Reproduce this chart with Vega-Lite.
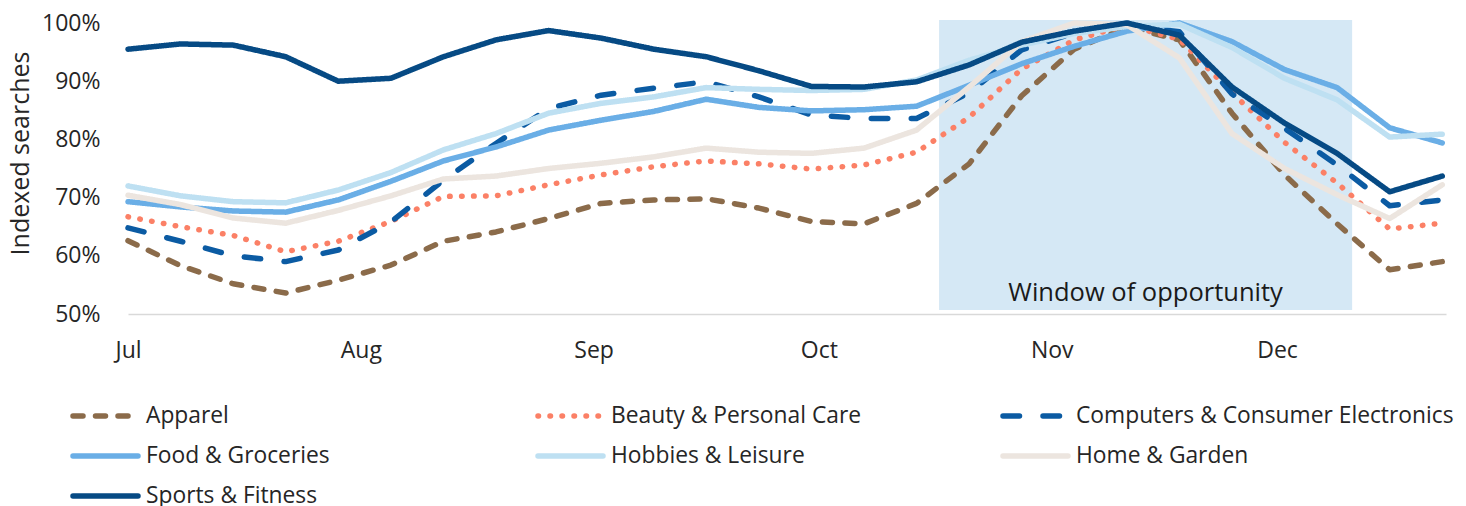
{
  "$schema": "https://vega.github.io/schema/vega-lite/v6.json",
  "width": 1318,
  "height": 291,
  "autosize": {"type": "none"},
  "padding": {"left": 128, "top": 23, "right": 20, "bottom": 192},
  "config": {"font": "Open Sans", "view": {"stroke": null}},
  "datasets": {
    "series": [
      {"date":"2023-07-01","category":"Apparel","value":62.6},{"date":"2023-07-08","category":"Apparel","value":58.3},{"date":"2023-07-15","category":"Apparel","value":55.2},{"date":"2023-07-22","category":"Apparel","value":53.6},{"date":"2023-07-29","category":"Apparel","value":55.8},{"date":"2023-08-05","category":"Apparel","value":58.4},{"date":"2023-08-12","category":"Apparel","value":62.5},{"date":"2023-08-19","category":"Apparel","value":64.1},{"date":"2023-08-26","category":"Apparel","value":66.4},{"date":"2023-09-02","category":"Apparel","value":69.0},{"date":"2023-09-09","category":"Apparel","value":69.6},{"date":"2023-09-16","category":"Apparel","value":69.8},{"date":"2023-09-23","category":"Apparel","value":68.2},{"date":"2023-09-30","category":"Apparel","value":65.9},{"date":"2023-10-07","category":"Apparel","value":65.5},{"date":"2023-10-14","category":"Apparel","value":69.0},{"date":"2023-10-21","category":"Apparel","value":75.8},{"date":"2023-10-28","category":"Apparel","value":87.5},{"date":"2023-11-04","category":"Apparel","value":95.5},{"date":"2023-11-11","category":"Apparel","value":99.3},{"date":"2023-11-18","category":"Apparel","value":97.1},{"date":"2023-11-25","category":"Apparel","value":84.5},{"date":"2023-12-02","category":"Apparel","value":73.9},{"date":"2023-12-09","category":"Apparel","value":65.5},{"date":"2023-12-16","category":"Apparel","value":57.6},{"date":"2023-12-23","category":"Apparel","value":59.0},
      {"date":"2023-07-01","category":"Beauty & Personal Care","value":66.7},{"date":"2023-07-08","category":"Beauty & Personal Care","value":65.0},{"date":"2023-07-15","category":"Beauty & Personal Care","value":63.5},{"date":"2023-07-22","category":"Beauty & Personal Care","value":60.7},{"date":"2023-07-29","category":"Beauty & Personal Care","value":62.5},{"date":"2023-08-05","category":"Beauty & Personal Care","value":65.9},{"date":"2023-08-12","category":"Beauty & Personal Care","value":70.2},{"date":"2023-08-19","category":"Beauty & Personal Care","value":70.3},{"date":"2023-08-26","category":"Beauty & Personal Care","value":72.2},{"date":"2023-09-02","category":"Beauty & Personal Care","value":73.9},{"date":"2023-09-09","category":"Beauty & Personal Care","value":75.3},{"date":"2023-09-16","category":"Beauty & Personal Care","value":76.3},{"date":"2023-09-23","category":"Beauty & Personal Care","value":75.8},{"date":"2023-09-30","category":"Beauty & Personal Care","value":74.9},{"date":"2023-10-07","category":"Beauty & Personal Care","value":75.6},{"date":"2023-10-14","category":"Beauty & Personal Care","value":77.8},{"date":"2023-10-21","category":"Beauty & Personal Care","value":83.8},{"date":"2023-10-28","category":"Beauty & Personal Care","value":92.1},{"date":"2023-11-04","category":"Beauty & Personal Care","value":97.1},{"date":"2023-11-11","category":"Beauty & Personal Care","value":99.6},{"date":"2023-11-18","category":"Beauty & Personal Care","value":97.2},{"date":"2023-11-25","category":"Beauty & Personal Care","value":88.0},{"date":"2023-12-02","category":"Beauty & Personal Care","value":79.5},{"date":"2023-12-09","category":"Beauty & Personal Care","value":72.5},{"date":"2023-12-16","category":"Beauty & Personal Care","value":64.6},{"date":"2023-12-23","category":"Beauty & Personal Care","value":65.6},
      {"date":"2023-07-01","category":"Computers & Consumer Electronics","value":64.8},{"date":"2023-07-08","category":"Computers & Consumer Electronics","value":62.5},{"date":"2023-07-15","category":"Computers & Consumer Electronics","value":60.0},{"date":"2023-07-22","category":"Computers & Consumer Electronics","value":59.0},{"date":"2023-07-29","category":"Computers & Consumer Electronics","value":61.0},{"date":"2023-08-05","category":"Computers & Consumer Electronics","value":65.8},{"date":"2023-08-12","category":"Computers & Consumer Electronics","value":73.0},{"date":"2023-08-19","category":"Computers & Consumer Electronics","value":79.3},{"date":"2023-08-26","category":"Computers & Consumer Electronics","value":85.3},{"date":"2023-09-02","category":"Computers & Consumer Electronics","value":87.6},{"date":"2023-09-09","category":"Computers & Consumer Electronics","value":88.8},{"date":"2023-09-16","category":"Computers & Consumer Electronics","value":89.9},{"date":"2023-09-23","category":"Computers & Consumer Electronics","value":87.3},{"date":"2023-09-30","category":"Computers & Consumer Electronics","value":84.2},{"date":"2023-10-07","category":"Computers & Consumer Electronics","value":83.6},{"date":"2023-10-14","category":"Computers & Consumer Electronics","value":83.6},{"date":"2023-10-21","category":"Computers & Consumer Electronics","value":88.0},{"date":"2023-10-28","category":"Computers & Consumer Electronics","value":95.4},{"date":"2023-11-04","category":"Computers & Consumer Electronics","value":98.3},{"date":"2023-11-11","category":"Computers & Consumer Electronics","value":99.6},{"date":"2023-11-18","category":"Computers & Consumer Electronics","value":98.5},{"date":"2023-11-25","category":"Computers & Consumer Electronics","value":87.8},{"date":"2023-12-02","category":"Computers & Consumer Electronics","value":81.9},{"date":"2023-12-09","category":"Computers & Consumer Electronics","value":75.6},{"date":"2023-12-16","category":"Computers & Consumer Electronics","value":68.6},{"date":"2023-12-23","category":"Computers & Consumer Electronics","value":69.6},
      {"date":"2023-07-01","category":"Food & Groceries","value":69.3},{"date":"2023-07-08","category":"Food & Groceries","value":68.4},{"date":"2023-07-15","category":"Food & Groceries","value":67.7},{"date":"2023-07-22","category":"Food & Groceries","value":67.5},{"date":"2023-07-29","category":"Food & Groceries","value":69.6},{"date":"2023-08-05","category":"Food & Groceries","value":72.8},{"date":"2023-08-12","category":"Food & Groceries","value":76.3},{"date":"2023-08-19","category":"Food & Groceries","value":78.7},{"date":"2023-08-26","category":"Food & Groceries","value":81.6},{"date":"2023-09-02","category":"Food & Groceries","value":83.3},{"date":"2023-09-09","category":"Food & Groceries","value":84.8},{"date":"2023-09-16","category":"Food & Groceries","value":86.9},{"date":"2023-09-23","category":"Food & Groceries","value":85.5},{"date":"2023-09-30","category":"Food & Groceries","value":84.9},{"date":"2023-10-07","category":"Food & Groceries","value":85.1},{"date":"2023-10-14","category":"Food & Groceries","value":85.7},{"date":"2023-10-21","category":"Food & Groceries","value":89.3},{"date":"2023-10-28","category":"Food & Groceries","value":93.0},{"date":"2023-11-04","category":"Food & Groceries","value":96.0},{"date":"2023-11-11","category":"Food & Groceries","value":98.6},{"date":"2023-11-18","category":"Food & Groceries","value":100.0},{"date":"2023-11-25","category":"Food & Groceries","value":96.8},{"date":"2023-12-02","category":"Food & Groceries","value":92.0},{"date":"2023-12-09","category":"Food & Groceries","value":88.9},{"date":"2023-12-16","category":"Food & Groceries","value":82.0},{"date":"2023-12-23","category":"Food & Groceries","value":79.4},
      {"date":"2023-07-01","category":"Hobbies & Leisure","value":72.0},{"date":"2023-07-08","category":"Hobbies & Leisure","value":70.3},{"date":"2023-07-15","category":"Hobbies & Leisure","value":69.3},{"date":"2023-07-22","category":"Hobbies & Leisure","value":69.1},{"date":"2023-07-29","category":"Hobbies & Leisure","value":71.3},{"date":"2023-08-05","category":"Hobbies & Leisure","value":74.3},{"date":"2023-08-12","category":"Hobbies & Leisure","value":78.2},{"date":"2023-08-19","category":"Hobbies & Leisure","value":81.0},{"date":"2023-08-26","category":"Hobbies & Leisure","value":84.5},{"date":"2023-09-02","category":"Hobbies & Leisure","value":86.2},{"date":"2023-09-09","category":"Hobbies & Leisure","value":87.3},{"date":"2023-09-16","category":"Hobbies & Leisure","value":88.9},{"date":"2023-09-23","category":"Hobbies & Leisure","value":88.6},{"date":"2023-09-30","category":"Hobbies & Leisure","value":88.4},{"date":"2023-10-07","category":"Hobbies & Leisure","value":88.6},{"date":"2023-10-14","category":"Hobbies & Leisure","value":90.2},{"date":"2023-10-21","category":"Hobbies & Leisure","value":93.6},{"date":"2023-10-28","category":"Hobbies & Leisure","value":96.2},{"date":"2023-11-04","category":"Hobbies & Leisure","value":98.2},{"date":"2023-11-11","category":"Hobbies & Leisure","value":99.4},{"date":"2023-11-18","category":"Hobbies & Leisure","value":99.8},{"date":"2023-11-25","category":"Hobbies & Leisure","value":95.8},{"date":"2023-12-02","category":"Hobbies & Leisure","value":90.5},{"date":"2023-12-09","category":"Hobbies & Leisure","value":86.8},{"date":"2023-12-16","category":"Hobbies & Leisure","value":80.4},{"date":"2023-12-23","category":"Hobbies & Leisure","value":80.9},
      {"date":"2023-07-01","category":"Home & Garden","value":70.4},{"date":"2023-07-08","category":"Home & Garden","value":68.8},{"date":"2023-07-15","category":"Home & Garden","value":66.5},{"date":"2023-07-22","category":"Home & Garden","value":65.6},{"date":"2023-07-29","category":"Home & Garden","value":67.8},{"date":"2023-08-05","category":"Home & Garden","value":70.3},{"date":"2023-08-12","category":"Home & Garden","value":73.2},{"date":"2023-08-19","category":"Home & Garden","value":73.7},{"date":"2023-08-26","category":"Home & Garden","value":75.0},{"date":"2023-09-02","category":"Home & Garden","value":75.9},{"date":"2023-09-09","category":"Home & Garden","value":77.0},{"date":"2023-09-16","category":"Home & Garden","value":78.5},{"date":"2023-09-23","category":"Home & Garden","value":77.8},{"date":"2023-09-30","category":"Home & Garden","value":77.6},{"date":"2023-10-07","category":"Home & Garden","value":78.5},{"date":"2023-10-14","category":"Home & Garden","value":81.6},{"date":"2023-10-21","category":"Home & Garden","value":89.0},{"date":"2023-10-28","category":"Home & Garden","value":96.8},{"date":"2023-11-04","category":"Home & Garden","value":100.0},{"date":"2023-11-11","category":"Home & Garden","value":99.7},{"date":"2023-11-18","category":"Home & Garden","value":94.0},{"date":"2023-11-25","category":"Home & Garden","value":81.0},{"date":"2023-12-02","category":"Home & Garden","value":75.0},{"date":"2023-12-09","category":"Home & Garden","value":70.5},{"date":"2023-12-16","category":"Home & Garden","value":66.4},{"date":"2023-12-23","category":"Home & Garden","value":72.2},
      {"date":"2023-07-01","category":"Sports & Fitness","value":95.5},{"date":"2023-07-08","category":"Sports & Fitness","value":96.4},{"date":"2023-07-15","category":"Sports & Fitness","value":96.2},{"date":"2023-07-22","category":"Sports & Fitness","value":94.2},{"date":"2023-07-29","category":"Sports & Fitness","value":90.0},{"date":"2023-08-05","category":"Sports & Fitness","value":90.5},{"date":"2023-08-12","category":"Sports & Fitness","value":94.2},{"date":"2023-08-19","category":"Sports & Fitness","value":97.1},{"date":"2023-08-26","category":"Sports & Fitness","value":98.7},{"date":"2023-09-02","category":"Sports & Fitness","value":97.4},{"date":"2023-09-09","category":"Sports & Fitness","value":95.5},{"date":"2023-09-16","category":"Sports & Fitness","value":94.2},{"date":"2023-09-23","category":"Sports & Fitness","value":91.8},{"date":"2023-09-30","category":"Sports & Fitness","value":89.1},{"date":"2023-10-07","category":"Sports & Fitness","value":89.0},{"date":"2023-10-14","category":"Sports & Fitness","value":89.9},{"date":"2023-10-21","category":"Sports & Fitness","value":92.8},{"date":"2023-10-28","category":"Sports & Fitness","value":96.7},{"date":"2023-11-04","category":"Sports & Fitness","value":98.6},{"date":"2023-11-11","category":"Sports & Fitness","value":100.0},{"date":"2023-11-18","category":"Sports & Fitness","value":97.9},{"date":"2023-11-25","category":"Sports & Fitness","value":89.0},{"date":"2023-12-02","category":"Sports & Fitness","value":82.8},{"date":"2023-12-09","category":"Sports & Fitness","value":77.6},{"date":"2023-12-16","category":"Sports & Fitness","value":71.0},{"date":"2023-12-23","category":"Sports & Fitness","value":73.7}
    ]
  },
  "encoding": {
    "x": {
      "field": "date", "type": "temporal",
      "scale": {"type": "utc", "domain": [{"year": 2023, "month": 7, "date": 1, "utc": true}, {"year": 2023, "month": 12, "date": 23, "hours": 12, "utc": true}]},
      "axis": {"title": null, "format": "%b", "tickCount": {"interval": "month", "step": 1}, "labelFlush": false, "labelFontSize": 23, "labelColor": "#262626", "labelPadding": 25, "ticks": false, "grid": false, "domainColor": "#d9d9d9", "domainWidth": 1.5, "labelOverlap": false}
    },
    "y": {
      "field": "value", "type": "quantitative",
      "scale": {"domain": [50, 100], "nice": false, "zero": false},
      "axis": {"title": "Indexed searches", "values": [50, 60, 70, 80, 90, 100], "labelExpr": "datum.value + '%'", "labelFontSize": 23, "labelColor": "#262626", "labelPadding": 28, "ticks": false, "grid": false, "domain": false, "titleFontSize": 25, "titleFontWeight": "normal", "titleColor": "#262626", "titleAngle": 270, "titleAlign": "center", "titleBaseline": "middle", "titleX": -108, "titleY": 130}
    }
  },
  "layer": [
    {
      "data": {"values": [{"date": "2023-10-17", "date2": "2023-12-11", "value": 100.5, "value2": 50.7}]},
      "mark": {"type": "rect", "color": "#d5e8f5"},
      "encoding": {
        "x2": {"field": "date2"},
        "y2": {"field": "value2"}
      }
    },
    {
      "data": {"values": [{"date": "2023-11-13T12:00:00Z", "value": 53.6, "label": "Window of opportunity"}]},
      "mark": {"type": "text", "fontSize": 25.5, "color": "#1a1a1a", "baseline": "middle", "align": "center"},
      "encoding": {
        "text": {"field": "label"}
      }
    },
    {
      "data": {"name": "series"},
      "mark": {"type": "line", "strokeWidth": 5.5, "strokeCap": "round", "strokeJoin": "round"},
      "encoding": {
        "color": {
          "field": "category", "type": "nominal",
          "scale": {"domain": ["Apparel", "Beauty & Personal Care", "Computers & Consumer Electronics", "Food & Groceries", "Hobbies & Leisure", "Home & Garden", "Sports & Fitness"], "range": ["#8b6b4a", "#fb8066", "#0b5ba3", "#6aaee6", "#bee0f2", "#ece5df", "#064a84"]},
          "legend": {"orient": "none", "legendX": -58, "legendY": 380, "columns": 3, "direction": "horizontal", "title": null, "symbolType": "stroke", "symbolSize": 4225, "symbolStrokeWidth": 5.5, "labelFontSize": 22.8, "labelColor": "#262626", "labelOffset": 5, "columnPadding": 11, "rowPadding": 14, "clipHeight": 26, "gridAlign": "all", "labelLimit": 500, "encode": {"symbols": {"update": {"strokeCap": {"value": "round"}}}}}
        },
        "strokeDash": {
          "field": "category", "type": "nominal",
          "scale": {"domain": ["Apparel", "Beauty & Personal Care", "Computers & Consumer Electronics", "Food & Groceries", "Hobbies & Leisure", "Home & Garden", "Sports & Fitness"], "range": [[10, 12.5], [0.5, 11.5], [16.5, 23.5], [1, 0], [1, 0], [1, 0], [1, 0]]},
          "legend": {"orient": "none", "legendX": -58, "legendY": 380, "columns": 3, "direction": "horizontal", "title": null, "symbolType": "stroke", "symbolSize": 4225, "symbolStrokeWidth": 5.5, "labelFontSize": 22.8, "labelColor": "#262626", "labelOffset": 5, "columnPadding": 11, "rowPadding": 14, "clipHeight": 26, "gridAlign": "all", "labelLimit": 500, "encode": {"symbols": {"update": {"strokeCap": {"value": "round"}}}}}
        }
      }
    }
  ]
}
